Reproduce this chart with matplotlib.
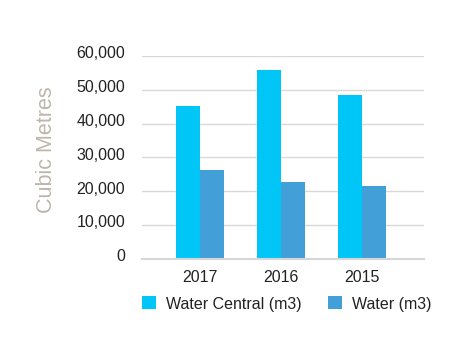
import matplotlib
matplotlib.use("Agg")
import matplotlib.pyplot as plt
import matplotlib.transforms as mtransforms
import numpy as np

categories = ["2017", "2016", "2015"]
water_central = [45200, 55900, 48500]
water = [26200, 22700, 21500]
series_labels = ["Water Central (m3)", "Water (m3)"]
yticks = [0, 10000, 20000, 30000, 40000, 50000, 60000]

plt.rcParams['font.family'] = ['Liberation Sans', 'DejaVu Sans']

fig = plt.figure(figsize=(4.71, 3.58), dpi=100)
ax = fig.add_axes([141.7/471, 1-258.6/358, (424-141.7)/471, (258.6-56)/358])

x = np.arange(len(categories))
w = 0.296
c1 = "#00C6F8"
c2 = "#429FD8"
b1 = ax.bar(x - w/2, water_central, width=w, color=c1, label=series_labels[0], zorder=3)
b2 = ax.bar(x + w/2, water, width=w, color=c2, label=series_labels[1], zorder=3)

ax.set_xlim(-0.72, 2.77)
ax.set_ylim(0, 60000)
ax.set_yticks(yticks)
ax.set_yticklabels([f"{v:,}" for v in yticks])
ax.set_xticks(x)
ax.set_xticklabels(categories)
ax.tick_params(axis='both', length=0, labelsize=11.5, colors="#222222")
ax.tick_params(axis='y', pad=12)
ax.tick_params(axis='x', pad=8)
off = mtransforms.ScaledTranslation(0, 3.5/100, fig.dpi_scale_trans)
for lbl in ax.get_yticklabels():
    lbl.set_transform(lbl.get_transform() + off)
ax.yaxis.grid(True, color="#D9D9D9", linewidth=1, zorder=0)
for s in ["top", "right", "left"]:
    ax.spines[s].set_visible(False)
ax.spines["bottom"].set_color("#D6D6D6")
ax.spines["bottom"].set_linewidth(1.5)
ax.spines["bottom"].set_zorder(4)

fig.text(46/471, 1-150/358, "Cubic Metres", rotation=90, ha="center", va="center",
         fontsize=15.5, color="#BDB6AC")

leg = fig.legend(handles=[b1, b2], labels=series_labels, loc="center left",
                 bbox_to_anchor=(142/471, 1-304/358), ncol=2, frameon=False,
                 fontsize=11.5, handlelength=0.875, handleheight=0.875,
                 handletextpad=0.65, columnspacing=1.6, borderpad=0, borderaxespad=0)
for t in leg.get_texts():
    t.set_color("#222222")

fig.savefig("out.png", dpi=100)
